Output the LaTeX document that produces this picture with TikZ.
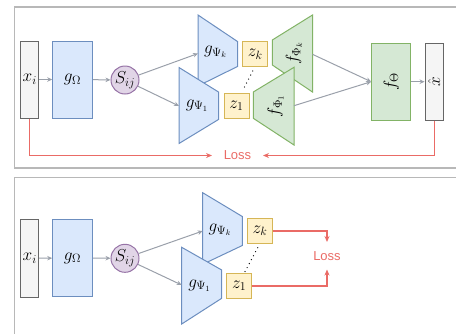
\documentclass[tikz,border=0pt]{standalone}
\usepackage{fontspec}
\newfontfamily\lossfont{Liberation Sans}
\usetikzlibrary{arrows.meta}
\definecolor{gfill}{HTML}{F5F5F5}
\definecolor{gline}{HTML}{666666}
\definecolor{bfill}{HTML}{DAE8FC}
\definecolor{bline}{HTML}{6C8EBF}
\definecolor{pfill}{HTML}{E1D5E7}
\definecolor{pline}{HTML}{9673A6}
\definecolor{yfill}{HTML}{FFF2CC}
\definecolor{yline}{HTML}{D6B656}
\definecolor{grfill}{HTML}{D5E8D4}
\definecolor{grline}{HTML}{82B366}
\definecolor{lossred}{HTML}{EA6B66}
\definecolor{arrgray}{HTML}{9AA0AA}
\definecolor{framegray}{HTML}{B8B8B8}
\tikzset{
  mathtxt/.style={font=\fontsize{17}{19}\selectfont, inner sep=0pt},
  graybox/.style={draw=gline, fill=gfill, line width=1pt, mathtxt},
  bluebox/.style={draw=bline, fill=bfill, line width=1pt, mathtxt},
  greenbox/.style={draw=grline, fill=grfill, line width=1pt, mathtxt},
  zbox/.style={draw=yline, fill=yfill, line width=1pt, mathtxt, minimum width=25pt, minimum height=25pt},
  sbox/.style={draw=pline, fill=pfill, line width=1pt, circle, minimum size=28pt, mathtxt},
  bluetrap/.style={draw=bline, fill=bfill, line width=1pt, line join=miter},
  greentrap/.style={draw=grline, fill=grfill, line width=1pt},
  flow/.style={draw=arrgray, line width=1pt, -{Stealth[length=5pt,width=4.5pt]}},
  lossarrow/.style={draw=lossred, line width=1.4pt, -{Stealth[length=6pt,width=5pt]}},
  losstxt/.style={text=lossred, font=\lossfont\fontsize{13}{15}\selectfont, inner sep=0pt},
  panel/.style={draw=framegray, line width=1.5pt},
  dotline/.style={line width=1.3pt, dash pattern=on 0pt off 4.5pt, line cap=round}
}
\begin{document}
\begin{tikzpicture}[x=1pt,y=-1pt]
\useasboundingbox (0,0) rectangle (456,333);
\clip (0,0) rectangle (456,333);
% panels
\draw[panel] (14.7,7) rectangle (480,168);
\draw[panel] (14.7,177.3) rectangle (480,360);

% ================= top panel =================
\node[graybox, minimum width=18pt, minimum height=77pt] (xi) at (29.7,79.5) {$x_i$};
\node[bluebox, minimum width=39.6pt, minimum height=77pt] (gO) at (72.5,79.5) {$g_\Omega$};
\node[sbox] (S) at (125,80) {$S_{ij}$};

% g_Psi_k trapezoid
\draw[bluetrap] (198,15) -- (237.5,41.5) -- (237.5,66.5) -- (198,86) -- cycle;
\node[mathtxt] (gk) at (215.5,52) {$g_{\Psi_k}$};
\coordinate (gkin) at (198,53.5);
% g_Psi_1 trapezoid
\draw[bluetrap] (179,67.5) -- (218.5,92) -- (218.5,119.5) -- (179,143.5) -- cycle;
\node[mathtxt] (g1) at (197,105.5) {$g_{\Psi_1}$};
\coordinate (g1in) at (179,106);

\node[zbox] (zk) at (255.2,54.2) {$z_k$};
\node[zbox] (z1) at (236.5,105.8) {$z_1$};
\coordinate (dk) at (252.7,71);
\coordinate (d1) at (243.3,89.5);
\draw[dotline] (dk) -- (d1);

% f_Phi_k trapezoid
\draw[greentrap] (312.5,15) -- (312.5,92) -- (272.3,65) -- (272.3,40) -- cycle;
\node[mathtxt, rotate=90] (fk) at (294,53.5) {$f_{\Phi_k}$};
\coordinate (fkout) at (312.5,54.3);
% f_Phi_1 trapezoid
\draw[greentrap] (294,67.3) -- (294,145) -- (253.3,118.3) -- (253.3,92) -- cycle;
\node[mathtxt, rotate=90] (f1) at (275.5,106) {$f_{\Phi_1}$};
\coordinate (f1out) at (294,105.7);

\node[greenbox, rotate=90, minimum width=76.7pt, minimum height=39.3pt] (fT) at (391.3,81.7) {$f_\Theta$};
\node[graybox, rotate=90, minimum width=76.7pt, minimum height=18.3pt] (xh) at (434.2,81.7) {$\hat{x}$};

\draw[flow] (xi) -- (gO);
\draw[flow] (gO) -- (S);
\draw[flow] (S) -- (gkin);
\draw[flow] (S) -- (g1in);
\coordinate (fTin) at (fT.north);
\draw[flow] (fkout) -- (fTin);
\draw[flow] (f1out) -- (fTin);
\draw[flow] (fT) -- (xh);

\node[losstxt] (loss1) at (237.5,155.5) {Loss};
\coordinate (lossL) at (212,155.5);
\coordinate (lossR) at (263,155.5);
\draw[lossarrow] (xi.south) |- (lossL);
\draw[lossarrow] (xh.west) |- (lossR);

% ================= bottom panel =================
\node[graybox, minimum width=18pt, minimum height=78pt] (xib) at (29.7,258.3) {$x_i$};
\node[bluebox, minimum width=39.6pt, minimum height=77.5pt] (gOb) at (72.5,258) {$g_\Omega$};
\node[sbox] (Sb) at (125,258.3) {$S_{ij}$};

\draw[bluetrap] (202.7,192.7) -- (242.3,216.5) -- (242.3,245.5) -- (202.7,264.3) -- cycle;
\node[mathtxt] (gkb) at (220,230) {$g_{\Psi_k}$};
\coordinate (gkbin) at (202.7,231);
\draw[bluetrap] (181.7,247.3) -- (221.7,270) -- (221.7,298.3) -- (181.7,324) -- cycle;
\node[mathtxt] (g1b) at (199.5,285.5) {$g_{\Psi_1}$};
\coordinate (g1bin) at (181.7,285);

\node[zbox] (zkb) at (260,230.8) {$z_k$};
\node[zbox] (z1b) at (239.2,285.8) {$z_1$};
\coordinate (dkb) at (257.7,247.7);
\coordinate (d1b) at (245,271.7);
\draw[dotline] (dkb) -- (d1b);

\draw[flow] (xib) -- (gOb);
\draw[flow] (gOb) -- (Sb);
\draw[flow] (Sb) -- (gkbin);
\draw[flow] (Sb) -- (g1bin);

\node[losstxt] (loss2) at (327,256) {Loss};
\coordinate (lossT) at (327,242);
\coordinate (lossB) at (327,269.5);
\draw[lossarrow] (zkb.east) -| (lossT);
\draw[lossarrow] (z1b.east) -| (lossB);
\end{tikzpicture}
\end{document}
